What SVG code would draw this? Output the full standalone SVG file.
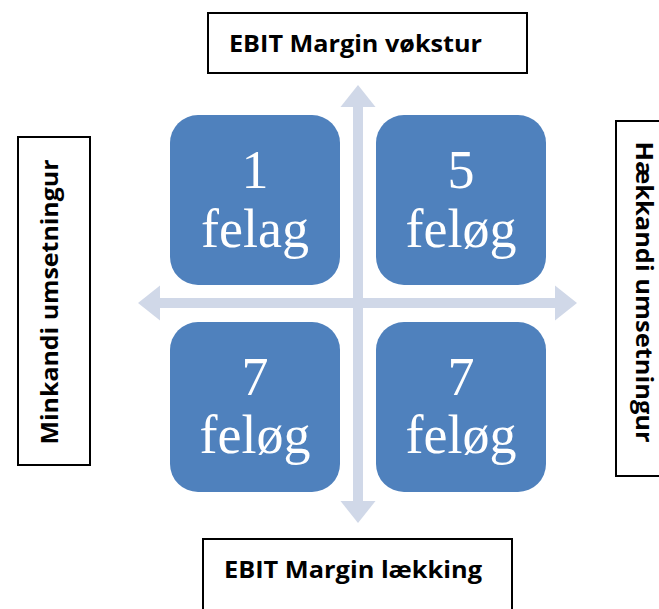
<svg xmlns="http://www.w3.org/2000/svg" width="659" height="609" viewBox="0 0 659 609">
  <style>
    .sq { fill: #4F81BD; }
    .num { font-family: "Liberation Serif", serif; font-size: 54px; fill: #FFFFFF; text-anchor: middle; }
    .lbox { fill: #FFFFFF; stroke: #000000; stroke-width: 2; }
    .lbl { font-family: "Open Sans", "Liberation Sans", sans-serif; font-weight: bold; font-size: 24px; fill: #000000; text-anchor: middle; }
    .ax { fill: #D0D8E8; }
  </style>
  <rect width="659" height="609" fill="#FFFFFF"/>

  <g id="connectors">
    <rect class="ax" x="353" y="104" width="10" height="400"/>
    <polygon class="ax" points="358,85 375.5,107 340.5,107"/>
    <polygon class="ax" points="358,523 375.5,501 340.5,501"/>
    <rect class="ax" x="158" y="298" width="399" height="10"/>
    <polygon class="ax" points="138,303 160,285.5 160,320.5"/>
    <polygon class="ax" points="577,303 555,285.5 555,320.5"/>
  </g>

  <g id="q1">
    <rect class="sq" x="170" y="115" width="170" height="170" rx="28" ry="28"/>
    <text class="num" x="255" y="188">1</text>
    <text class="num" x="255" y="247">felag</text>
  </g>
  <g id="q2">
    <rect class="sq" x="376" y="115" width="170" height="170" rx="28" ry="28"/>
    <text class="num" x="461" y="188">5</text>
    <text class="num" x="461" y="247">feløg</text>
  </g>
  <g id="q3">
    <rect class="sq" x="170" y="322" width="170" height="170" rx="28" ry="28"/>
    <text class="num" x="255" y="395">7</text>
    <text class="num" x="255" y="453">feløg</text>
  </g>
  <g id="q4">
    <rect class="sq" x="376" y="322" width="170" height="170" rx="28" ry="28"/>
    <text class="num" x="461" y="395">7</text>
    <text class="num" x="461" y="453">feløg</text>
  </g>

  <g id="label-top">
    <rect class="lbox" x="208" y="13" width="319" height="60"/>
    <text class="lbl" x="355.5" y="52" textLength="253" lengthAdjust="spacingAndGlyphs">EBIT Margin vøkstur</text>
  </g>
  <g id="label-bottom">
    <rect class="lbox" x="203" y="539" width="309" height="90"/>
    <text class="lbl" x="353" y="578" textLength="258" lengthAdjust="spacingAndGlyphs">EBIT Margin lækking</text>
  </g>
  <g id="label-left">
    <rect class="lbox" x="18" y="137" width="72" height="328"/>
    <text class="lbl" transform="translate(58,302) rotate(-90)" x="0" y="0" textLength="285" lengthAdjust="spacingAndGlyphs">Minkandi umsetningur</text>
  </g>
  <g id="label-right">
    <rect class="lbox" x="616" y="121" width="60" height="355"/>
    <text class="lbl" transform="translate(636,292) rotate(90)" x="0" y="0" textLength="301" lengthAdjust="spacingAndGlyphs">Hækkandi umsetningur</text>
  </g>
</svg>
